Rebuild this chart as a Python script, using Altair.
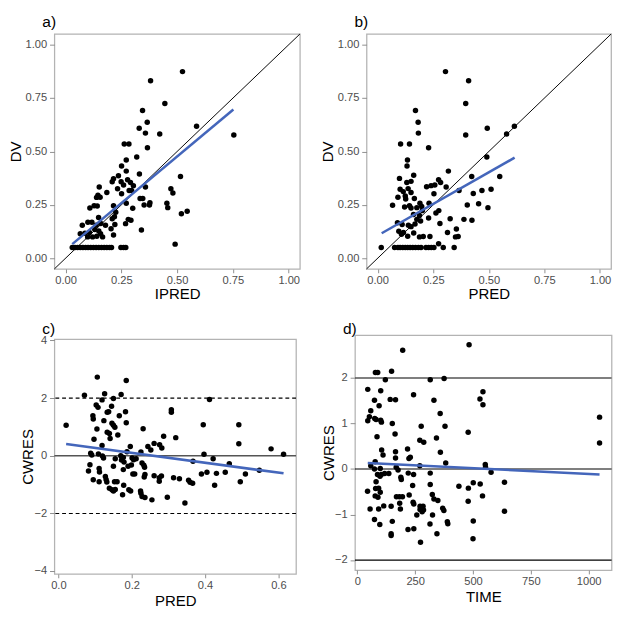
import altair as alt
import pandas as pd

FONT = "Liberation Sans"
BLUE = "#4466BB"

# ---------------- panel a: DV vs IPRED ----------------
a_ipred = [0.524, 0.381, 0.445, 0.345, 0.366, 0.587, 0.330, 0.358, 0.422, 0.754,
           0.263, 0.284, 0.367, 0.319, 0.272, 0.251, 0.272, 0.331, 0.237, 0.515,
           0.215, 0.278, 0.209, 0.249, 0.291, 0.260, 0.304, 0.151, 0.358, 0.233,
           0.285, 0.296, 0.472, 0.185, 0.481, 0.251, 0.145, 0.139, 0.155, 0.334,
           0.346, 0.272, 0.352, 0.378, 0.376, 0.454, 0.458, 0.128, 0.142, 0.109,
           0.301, 0.215, 0.225, 0.545, 0.519, 0.281, 0.293, 0.148, 0.209, 0.219,
           0.269, 0.118, 0.100, 0.075, 0.137, 0.158, 0.179, 0.204, 0.221, 0.131,
           0.149, 0.340, 0.066, 0.087, 0.107, 0.157, 0.099, 0.121, 0.140, 0.166,
           0.215, 0.491,
           0.030, 0.042, 0.054, 0.066, 0.078, 0.090, 0.101, 0.113, 0.125, 0.137,
           0.149, 0.161, 0.173, 0.185, 0.197, 0.206, 0.248, 0.260, 0.270]
a_dv = [0.874, 0.831, 0.725, 0.692, 0.637, 0.618, 0.609, 0.586, 0.582, 0.577,
        0.535, 0.535, 0.517, 0.474, 0.460, 0.432, 0.408, 0.394, 0.386, 0.383,
        0.372, 0.368, 0.358, 0.358, 0.355, 0.343, 0.340, 0.334, 0.334, 0.325,
        0.317, 0.317, 0.325, 0.308, 0.305, 0.302, 0.295, 0.285, 0.286, 0.280,
        0.280, 0.257, 0.249, 0.260, 0.249, 0.258, 0.237, 0.246, 0.245, 0.235,
        0.234, 0.246, 0.215, 0.220, 0.208, 0.182, 0.178, 0.191, 0.185, 0.194,
        0.162, 0.169, 0.169, 0.154, 0.155, 0.163, 0.154, 0.138, 0.158, 0.135,
        0.128, 0.132, 0.115, 0.117, 0.120, 0.115, 0.100, 0.100, 0.103, 0.100,
        0.109, 0.066,
        0.05, 0.05, 0.05, 0.05, 0.05, 0.05, 0.05, 0.05, 0.05, 0.05,
        0.05, 0.05, 0.05, 0.05, 0.05, 0.05, 0.05, 0.05, 0.05]
a_fit_x = [0.030, 0.752]
a_fit_y = [0.066, 0.697]

# ---------------- panel b: DV vs PRED ----------------
b_pred = [0.305, 0.409, 0.396, 0.170, 0.182, 0.615, 0.493, 0.183, 0.580, 0.396,
          0.103, 0.143, 0.229, 0.134, 0.132, 0.491, 0.318, 0.162, 0.549, 0.423,
          0.098, 0.274, 0.150, 0.131, 0.283, 0.257, 0.240, 0.220, 0.308, 0.101,
          0.137, 0.115, 0.366, 0.469, 0.510, 0.150, 0.430, 0.253, 0.124, 0.091,
          0.165, 0.126, 0.190, 0.231, 0.454, 0.067, 0.403, 0.143, 0.121, 0.150,
          0.496, 0.176, 0.198, 0.201, 0.275, 0.262, 0.161, 0.188, 0.326, 0.388,
          0.424, 0.229, 0.176, 0.193, 0.089, 0.280, 0.168, 0.110, 0.138, 0.150,
          0.354, 0.095, 0.116, 0.162, 0.314, 0.107, 0.205, 0.188, 0.235, 0.362,
          0.350, 0.135, 0.274,
          0.016, 0.076, 0.091, 0.101, 0.113, 0.124, 0.135, 0.146, 0.158, 0.170,
          0.183, 0.195, 0.217, 0.229, 0.241, 0.253, 0.295, 0.344]
b_dv = [0.874, 0.831, 0.725, 0.692, 0.637, 0.618, 0.609, 0.586, 0.582, 0.577,
        0.535, 0.535, 0.517, 0.460, 0.432, 0.474, 0.408, 0.389, 0.383, 0.383,
        0.374, 0.368, 0.360, 0.355, 0.355, 0.343, 0.340, 0.335, 0.334, 0.323,
        0.326, 0.312, 0.317, 0.317, 0.323, 0.308, 0.303, 0.302, 0.292, 0.286,
        0.280, 0.277, 0.258, 0.258, 0.255, 0.248, 0.249, 0.246, 0.240, 0.235,
        0.237, 0.237, 0.242, 0.223, 0.223, 0.212, 0.205, 0.200, 0.185, 0.182,
        0.178, 0.188, 0.182, 0.174, 0.166, 0.163, 0.160, 0.158, 0.154, 0.148,
        0.137, 0.126, 0.120, 0.118, 0.120, 0.112, 0.102, 0.100, 0.102, 0.102,
        0.100, 0.103, 0.068,
        0.05, 0.05, 0.05, 0.05, 0.05, 0.05, 0.05, 0.05, 0.05, 0.05,
        0.05, 0.05, 0.05, 0.05, 0.05, 0.05, 0.05, 0.05]
b_fit_x = [0.018, 0.616]
b_fit_y = [0.117, 0.471]

# ---------------- panel c: CWRES vs PRED ----------------
c_pred = [0.106, 0.185, 0.071, 0.126, 0.171, 0.119, 0.150, 0.412, 0.103, 0.108,
          0.145, 0.183, 0.133, 0.137, 0.308, 0.308, 0.094, 0.095, 0.166, 0.124,
          0.146, 0.150, 0.154, 0.185, 0.021, 0.395, 0.492, 0.105, 0.231, 0.133,
          0.139, 0.162, 0.141, 0.097, 0.287, 0.320, 0.261, 0.276, 0.282, 0.244,
          0.252, 0.196, 0.119, 0.492, 0.580, 0.614, 0.088, 0.091, 0.109, 0.120,
          0.123, 0.170, 0.177, 0.187, 0.201, 0.205, 0.212, 0.225, 0.155, 0.150,
          0.172, 0.179, 0.190, 0.199, 0.228, 0.233, 0.235, 0.397, 0.422, 0.367,
          0.466, 0.086, 0.111, 0.112, 0.082, 0.177, 0.203, 0.208, 0.234, 0.236,
          0.261, 0.275, 0.281, 0.275, 0.314, 0.330, 0.390, 0.405, 0.431, 0.455,
          0.510, 0.548, 0.355, 0.359, 0.366, 0.426, 0.496, 0.095, 0.111, 0.128,
          0.130, 0.132, 0.139, 0.146, 0.150, 0.155, 0.153, 0.160, 0.178, 0.175,
          0.192, 0.197, 0.224, 0.225, 0.228, 0.236, 0.255, 0.297, 0.345]
c_cwres = [2.73, 2.61, 2.10, 2.15, 2.13, 1.94, 1.99, 1.95, 1.76, 1.68,
           1.72, 1.53, 1.51, 1.53, 1.60, 1.51, 1.39, 1.28, 1.39, 1.22,
           1.13, 1.06, 0.99, 1.15, 1.06, 1.08, 1.08, 0.93, 0.94, 0.82,
           0.77, 0.72, 0.60, 0.57, 0.68, 0.63, 0.43, 0.38, 0.27, 0.32,
           0.20, 0.32, 0.36, 0.42, 0.24, 0.05, 0.09, 0.03, 0.06, -0.01,
           -0.08, 0.00, -0.06, 0.14, -0.08, -0.14, -0.10, 0.13, -0.10, -0.36,
           -0.15, -0.22, -0.36, -0.32, -0.25, -0.33, -0.40, 0.05, -0.10, -0.19,
           -0.28, -0.31, -0.44, -0.56, -0.53, -0.48, -0.63, -0.63, -0.74, -0.65,
           -0.69, -0.76, -0.70, -0.88, -0.76, -0.80, -0.63, -0.57, -0.61, -0.57,
           -0.63, -0.50, -0.85, -0.92, -0.95, -1.02, -0.90, -0.83, -0.90, -0.72,
           -0.82, -0.91, -1.13, -1.18, -1.22, -1.17, -0.90, -0.90, -1.02, -1.35,
           -1.18, -1.22, -1.22, -1.30, -1.41, -1.45, -1.53, -1.44, -1.64]
c_fit_x = [0.021, 0.614]
c_fit_y = [0.41, -0.61]

# ---------------- panel d: CWRES vs TIME ----------------
d_time = [196, 483, 78, 88, 148, 121, 315, 375, 45, 101,
          243, 543, 530, 543, 74, 142, 165, 331, 94, 58,
          52, 45, 75, 81, 101, 104, 151, 358, 1047, 276,
          379, 85, 163, 479, 270, 287, 342, 1047, 105, 165,
          217, 359, 111, 165, 223, 229, 77, 58, 382, 270,
          168, 553, 554, 74, 99, 176, 578, 87, 98, 104,
          118, 136, 220, 243, 315, 188, 190, 81, 44, 79,
          92, 99, 77, 89, 239, 315, 439, 480, 501, 531,
          636, 169, 182, 195, 224, 324, 331, 348, 541, 479,
          183, 241, 244, 55, 92, 114, 146, 186, 271, 284,
          271, 286, 280, 369, 374, 257, 325, 636, 74, 97,
          151, 314, 389, 391, 501, 219, 244, 146, 146, 344,
          500, 273]
d_cwres = [2.61, 2.73, 2.12, 2.12, 2.15, 1.96, 1.96, 1.99, 1.75, 1.72,
           1.63, 1.70, 1.54, 1.41, 1.51, 1.53, 1.52, 1.51, 1.39, 1.28,
           1.15, 1.06, 1.11, 1.09, 1.07, 1.03, 1.00, 1.22, 1.14, 0.94,
           0.94, 0.71, 0.77, 0.81, 0.63, 0.59, 0.68, 0.57, 0.42, 0.38,
           0.44, 0.37, 0.31, 0.24, 0.23, 0.26, 0.16, 0.07, 0.13, 0.07,
           0.04, 0.10, 0.04, 0.00, 0.01, -0.02, -0.07, -0.12, -0.16, -0.12,
           -0.10, -0.10, -0.09, -0.12, -0.09, -0.18, -0.23, -0.28, -0.49, -0.43,
           -0.42, -0.51, -0.59, -0.62, -0.36, -0.34, -0.38, -0.42, -0.30, -0.33,
           -0.29, -0.61, -0.61, -0.61, -0.57, -0.56, -0.66, -0.69, -0.59, -0.71,
           -0.75, -0.73, -0.77, -0.88, -0.88, -0.81, -0.82, -0.88, -0.82, -0.82,
           -0.89, -0.90, -0.94, -0.86, -0.91, -1.01, -1.01, -0.93, -1.11, -1.22,
           -1.15, -1.21, -1.16, -1.20, -1.14, -1.33, -1.31, -1.42, -1.46, -1.42,
           -1.53, -1.61]
d_fit_x = [45, 1047]
d_fit_y = [0.13, -0.12]

# reference lines
ident_vals = [-0.05, 1.05]
c_zero = [0]
c_dashed = [-2, 2]
d_gray = [2]
d_black = [0, -2]


def xy(xs, ys):
    return pd.DataFrame({"x": xs, "y": ys})


def make_panel(pts, fit, xdom, ydom, xvals, yvals, xfmt, yfmt, xtitle, ytitle,
               tag, w, h, ext, toff, tdy, xtp, under):
    X = alt.X("x:Q", scale=alt.Scale(domain=xdom, nice=False, zero=False),
              axis=alt.Axis(values=xvals, format=xfmt, title=xtitle, titlePadding=xtp))
    Y = alt.Y("y:Q", scale=alt.Scale(domain=ydom, nice=False, zero=False),
              axis=alt.Axis(values=yvals, format=yfmt, title=ytitle,
                            minExtent=ext, maxExtent=ext))
    layers = []
    for kind, df, color, width, dash in under:
        kw = dict(color=color, strokeWidth=width)
        if dash:
            kw["strokeDash"] = dash
        if kind == "line":
            layers.append(alt.Chart(df).mark_line(**kw).encode(x=X, y=Y))
        else:
            layers.append(alt.Chart(df).mark_rule(**kw).encode(y=Y))
    points = alt.Chart(pts).mark_circle(size=32, color="black", opacity=1).encode(x=X, y=Y)
    line = alt.Chart(fit).mark_line(color=BLUE, strokeWidth=2.6).encode(x=X, y=Y)
    return alt.layer(*layers, points, line).properties(
        width=w, height=h,
        title=alt.Title(tag, anchor="start", frame="group", dx=-12.5, dy=tdy, offset=toff,
                        fontSize=16, fontWeight="normal", font=FONT, color="black"))


ident = xy(ident_vals, ident_vals)
tick01 = [0, 0.25, 0.5, 0.75, 1.0]

pa = make_panel(xy(a_ipred, a_dv), xy(a_fit_x, a_fit_y), [-0.05, 1.05], [-0.05, 1.05],
                tick01, tick01, ".2f", ".2f", "IPRED", "DV", "a)", 254, 243, 30, 2.1, 0, 1,
                [("line", ident, "black", 1, None)])
pb = make_panel(xy(b_pred, b_dv), xy(b_fit_x, b_fit_y), [-0.05, 1.05], [-0.05, 1.05],
                tick01, tick01, ".2f", ".2f", "PRED", "DV", "b)", 253, 243, 30, 2.1, 0, 1,
                [("line", ident, "black", 1, None)])
pc = make_panel(xy(c_pred, c_cwres), xy(c_fit_x, c_fit_y), [-0.011, 0.648], [-4.1, 4.05],
                [0, 0.2, 0.4, 0.6], [-4, -2, 0, 2, 4], ".1f", "d", "PRED", "CWRES", "c)",
                250, 243, 17.6, 0, 2.2, 2.9,
                [("rule", pd.DataFrame({"y": c_zero}), "#555555", 1.5, None),
                 ("rule", pd.DataFrame({"y": c_dashed}), "black", 1.1, [4, 3])])
pd_ = make_panel(xy(d_time, d_cwres), xy(d_fit_x, d_fit_y), [-10.3, 1099], [-2.22, 2.94],
                 [0, 250, 500, 750, 1000], [-2, -1, 0, 1, 2], "d", "d", "TIME", "CWRES", "d)",
                 265.5, 243, 17.6, 0, 2.2, 2.9,
                 [("rule", pd.DataFrame({"y": d_gray}), "#555555", 1.5, None),
                  ("rule", pd.DataFrame({"y": d_black}), "black", 1.2, None)])

chart = alt.concat(pa, pb, pc, pd_, columns=2, align="none",
                   spacing={"row": 18.6, "column": 18}).properties(
    padding={"left": 0, "top": -4.6, "right": 0, "bottom": -3.5}
).configure_view(
    stroke="#b3b3b3", strokeWidth=1.3
).configure_axis(
    domain=False, grid=False, tickSize=5, tickColor="#8c8c8c", tickWidth=1,
    labelFont=FONT, labelFontSize=11.5, labelColor="#4d4d4d", labelPadding=3,
    titleFont=FONT, titleFontSize=15.5, titleFontWeight="normal", titleColor="black",
    titlePadding=2
).configure_axisX(tickSize=4, labelPadding=2)

chart.save("out.html", embed_options={"renderer": "svg", "actions": False})
